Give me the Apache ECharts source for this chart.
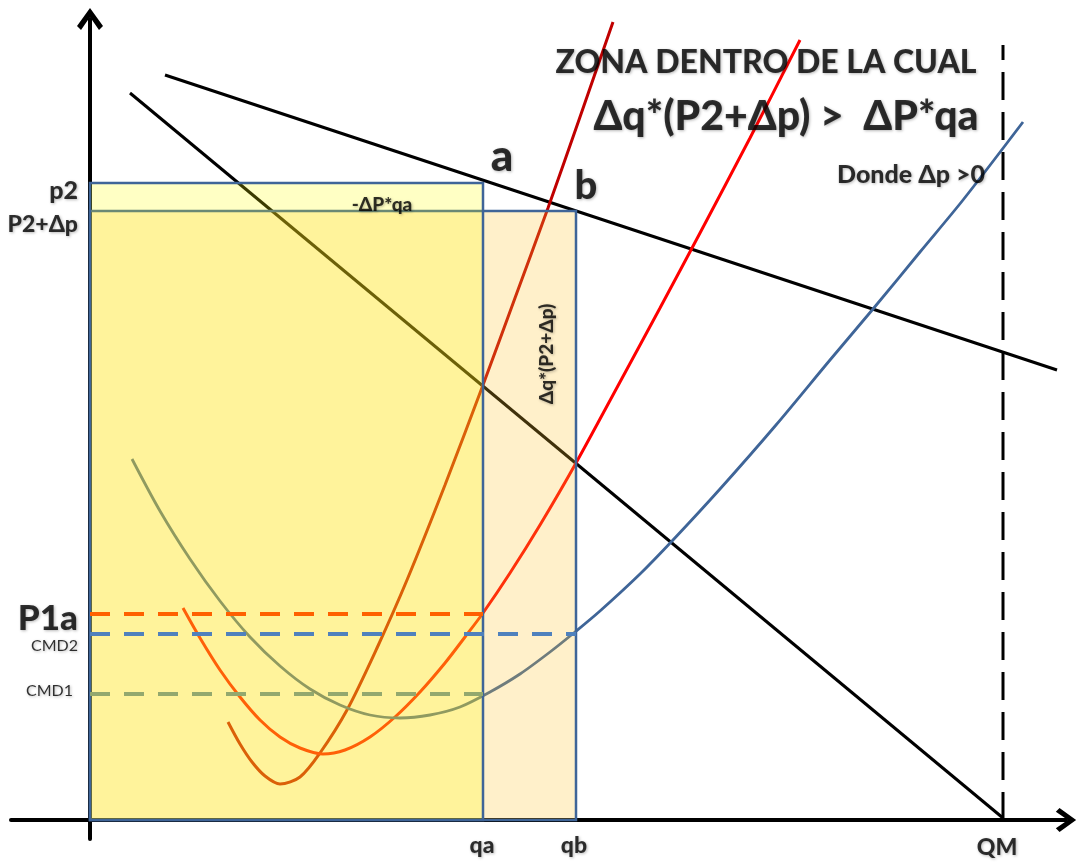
<!DOCTYPE html>
<html><head><meta charset="utf-8">
<script src="https://cdn.jsdelivr.net/npm/echarts@6/dist/echarts.min.js"></script>
<style>html,body{margin:0;padding:0;background:#fff}#c{width:1079px;height:862px}</style>
</head><body><div id="c"></div>
<script>
// ---- values (q = quantity, p = price) ----
const qa = 393, qb = 486, QM = 913;
const p2 = 637, p2dp = 609, p1a = 206, cmd2 = 186, cmd1 = 126;
const xTickValues = [qa, qb, QM];
const xTickLabels = ['qa', 'qb', 'QM'];
const yTickValues = [p2, p2dp, p1a, cmd2, cmd1];
const yTickLabels = ['p2', 'P2+Δp', 'P1a', 'CMD2', 'CMD1'];
const demandA = [[75, 745], [967, 450]];
const demandB = [[40, 727], [913, 2]];
const mcDark = [[138,98],[150,76],[162,58],[175,44],[190,36],[210,43],[230,67],[257,110],[287,172],[317,240],[355,335],[393,435],[425,522],[458,612],[490,703],[523,798]];
const mcRed = [[93,212],[110,182],[130,150],[150,123],[170,100],[190,83],[210,72],[233,66],[255,70],[280,83],[305,103],[330,128],[355,157],[375,183],[393,207],[420,247],[450,295],[486,357],[530,438],[570,512],[610,587],[660,682],[710,780]];
const acBlue = [[42,361],[70,309],[100,261],[130,219],[160,183],[190,154],[220,131],[250,115],[280,105],[310,102],[340,105],[370,113],[400,128],[430,146],[460,168],[485,188],[510,209],[550,246],[583,280],[630,331],[686,395],[740,460],[783,511],[830,568],[873,620],[933,698]];
const qmTop = 775;
const noteTexts = ['ZONA DENTRO DE LA CUAL', 'Δq*(P2+Δp) >  ΔP*qa', 'Donde Δp >0', 'a', 'b', '-ΔP*qa', 'Δq*(P2+Δp)'];
const noteQ = [676, 696, 821, 412, 496, 292, 457];
const noteP = [757, 703, 645, 663, 634, 615, 466];

// ---- styles ----
const FONT = 'Lato';
const W = 900;
const shadow = {textShadowColor: 'rgba(0,0,0,0.35)', textShadowBlur: 3, textShadowOffsetX: 1, textShadowOffsetY: 1};
const noteStyles = [
  {fontSize: 32}, {fontSize: 41}, {fontSize: 25}, {fontSize: 44}, {fontSize: 40}, {fontSize: 19}, {fontSize: 19, rotate: 90}
];
const yLabelStyles = [
  {fontSize: 25, offset: [-12, 8]},
  {fontSize: 23, offset: [-12, 14]},
  {fontSize: 35, offset: [-12, 5]},
  {fontSize: 16, fontWeight: 'normal', offset: [-12, 12]},
  {fontSize: 16, fontWeight: 'normal', offset: [-17, -3]}
];
const xLabelStyles = [
  {fontSize: 23, offset: [-1, 26]},
  {fontSize: 23, offset: [-2, 26]},
  {fontSize: 23, offset: [-6, 28]}
];

const chevron = 'path://M13,0 L26,18 L22,22 L13,9 L4,22 L0,18 Z';

function rectSeries(name, box, fill, stroke, z) {
  return {
    type: 'custom', name, z, silent: true,
    data: [box],
    renderItem: (params, api) => {
      const a = api.coord([api.value(0), api.value(1)]);
      const b = api.coord([api.value(2), api.value(3)]);
      return {type: 'rect', shape: {x: a[0], y: b[1], width: b[0] - a[0], height: a[1] - b[1]},
        style: {fill, stroke, lineWidth: 2.5}};
    }
  };
}
function lineSeries(data, color, width, z, extra) {
  return Object.assign({type: 'line', data, showSymbol: false, z, silent: true,
    lineStyle: {color, width}}, extra || {});
}
function hDash(y, x1, color, z) {
  return {type: 'line', data: [[0, y], [x1, y]], showSymbol: false, z, silent: true,
    lineStyle: {color, width: 4, type: [20, 14], cap: 'butt'}};
}
function textItem(value, text, align, style) {
  return {value, label: Object.assign({show: true, position: 'inside', formatter: text, color: '#000',
    fontFamily: FONT, fontWeight: W, align, verticalAlign: 'middle'}, shadow, style)};
}

const textData = []
  .concat(noteTexts.map((t, i) => textItem([noteQ[i], noteP[i]], t, 'center', noteStyles[i])))
  .concat(yTickLabels.map((t, i) => textItem([0, yTickValues[i]], t, 'right', yLabelStyles[i])))
  .concat(xTickLabels.map((t, i) => textItem([xTickValues[i], 0], t, 'center', xLabelStyles[i])));

const chart = echarts.init(document.getElementById('c'), null, {renderer: 'canvas'});
chart.setOption({
  animation: false,
  backgroundColor: '#fff',
  grid: {left: 11, right: 13, top: 19, bottom: 23, containLabel: false, outerBoundsMode: 'none'},
  xAxis: {
    type: 'value', min: -79, max: 976,
    splitLine: {show: false}, axisTick: {show: false}, axisLabel: {show: false},
    axisLine: {show: true, onZero: true, symbol: ['none', chevron], symbolSize: [24, 22], lineStyle: {color: '#000', width: 4}}
  },
  yAxis: {
    type: 'value', min: -19, max: 801,
    splitLine: {show: false}, axisTick: {show: false}, axisLabel: {show: false},
    axisLine: {show: true, onZero: true, symbol: ['none', chevron], symbolSize: [26, 22], lineStyle: {color: '#000', width: 4}}
  },
  series: [
    lineSeries(demandA, '#000', 3, 2),
    lineSeries(demandB, '#000', 3, 2),
    lineSeries(mcDark, '#C00000', 3, 2, {smooth: 0.3}),
    lineSeries(mcRed, '#FF0000', 3, 2, {smooth: 0.3}),
    lineSeries(acBlue, '#3F6598', 2.8, 2, {smooth: 0.3}),
    lineSeries([[QM, 0], [QM, qmTop]], '#000', 3, 2, {lineStyle: {color: '#000', width: 3, type: [28, 12], cap: 'butt'}}),
    rectSeries('areaB', [0, 0, qb, p2dp], 'rgba(255,195,43,0.25)', '#3F6598', 3),
    rectSeries('areaA', [0, 0, qa, p2], 'rgba(255,255,0,0.23)', '#3F6598', 4),
    hDash(p1a, qa, '#FF6000', 5),
    hDash(cmd2, qb, '#4F81BD', 5),
    hDash(cmd1, qa, '#93A86E', 5),
    {type: 'scatter', z: 6, silent: true, symbolSize: 0, clip: false, data: textData}
  ]
});
</script></body></html>
